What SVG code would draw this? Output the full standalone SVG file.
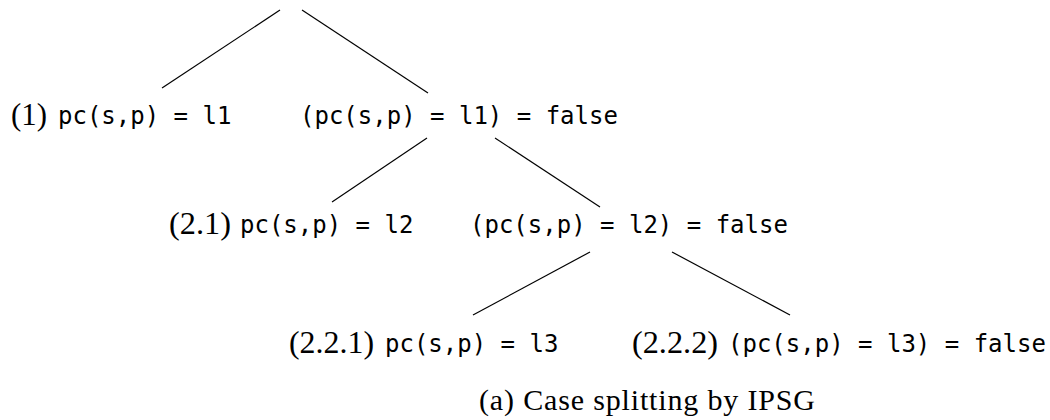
<svg xmlns="http://www.w3.org/2000/svg" width="1050" height="420" viewBox="0 0 1050 420">
<style>
.m{font-family:"DejaVu Sans Mono",monospace;font-size:24px;fill:#000}
.s{font-family:"Liberation Serif",serif;font-size:32px;fill:#000}
.cap{font-family:"Liberation Serif",serif;font-size:30px;fill:#000}
.c line{stroke:#000;stroke-width:1.2;fill:none}
</style>
<rect width="1050" height="420" fill="#fff"/>
<g id="connectors" class="c">
<line x1="280" y1="10" x2="162" y2="88"/>
<line x1="302" y1="10" x2="428" y2="93"/>
<line x1="427" y1="138" x2="332" y2="202"/>
<line x1="495" y1="138" x2="600" y2="207"/>
<line x1="590" y1="252" x2="473" y2="315"/>
<line x1="672" y1="252" x2="790" y2="315"/>
</g>
<g id="n1"><text class="s" x="11" y="125" textLength="36" lengthAdjust="spacingAndGlyphs">(1)</text><text class="m" x="58" y="124">pc(s,p) = l1</text></g>
<g id="n2"><text class="m" x="300" y="124">(pc(s,p) = l1) = false</text></g>
<g id="n21"><text class="s" x="169" y="234" textLength="62" lengthAdjust="spacingAndGlyphs">(2.1)</text><text class="m" x="240" y="233">pc(s,p) = l2</text></g>
<g id="n22"><text class="m" x="470" y="233">(pc(s,p) = l2) = false</text></g>
<g id="n221"><text class="s" x="289" y="353" textLength="85" lengthAdjust="spacingAndGlyphs">(2.2.1)</text><text class="m" x="385" y="352">pc(s,p) = l3</text></g>
<g id="n222"><text class="s" x="632" y="353" textLength="86" lengthAdjust="spacingAndGlyphs">(2.2.2)</text><text class="m" x="728" y="352">(pc(s,p) = l3) = false</text></g>
<g id="caption"><text class="cap" x="479" y="410" textLength="336">(a) Case splitting by IPSG</text></g>
</svg>
